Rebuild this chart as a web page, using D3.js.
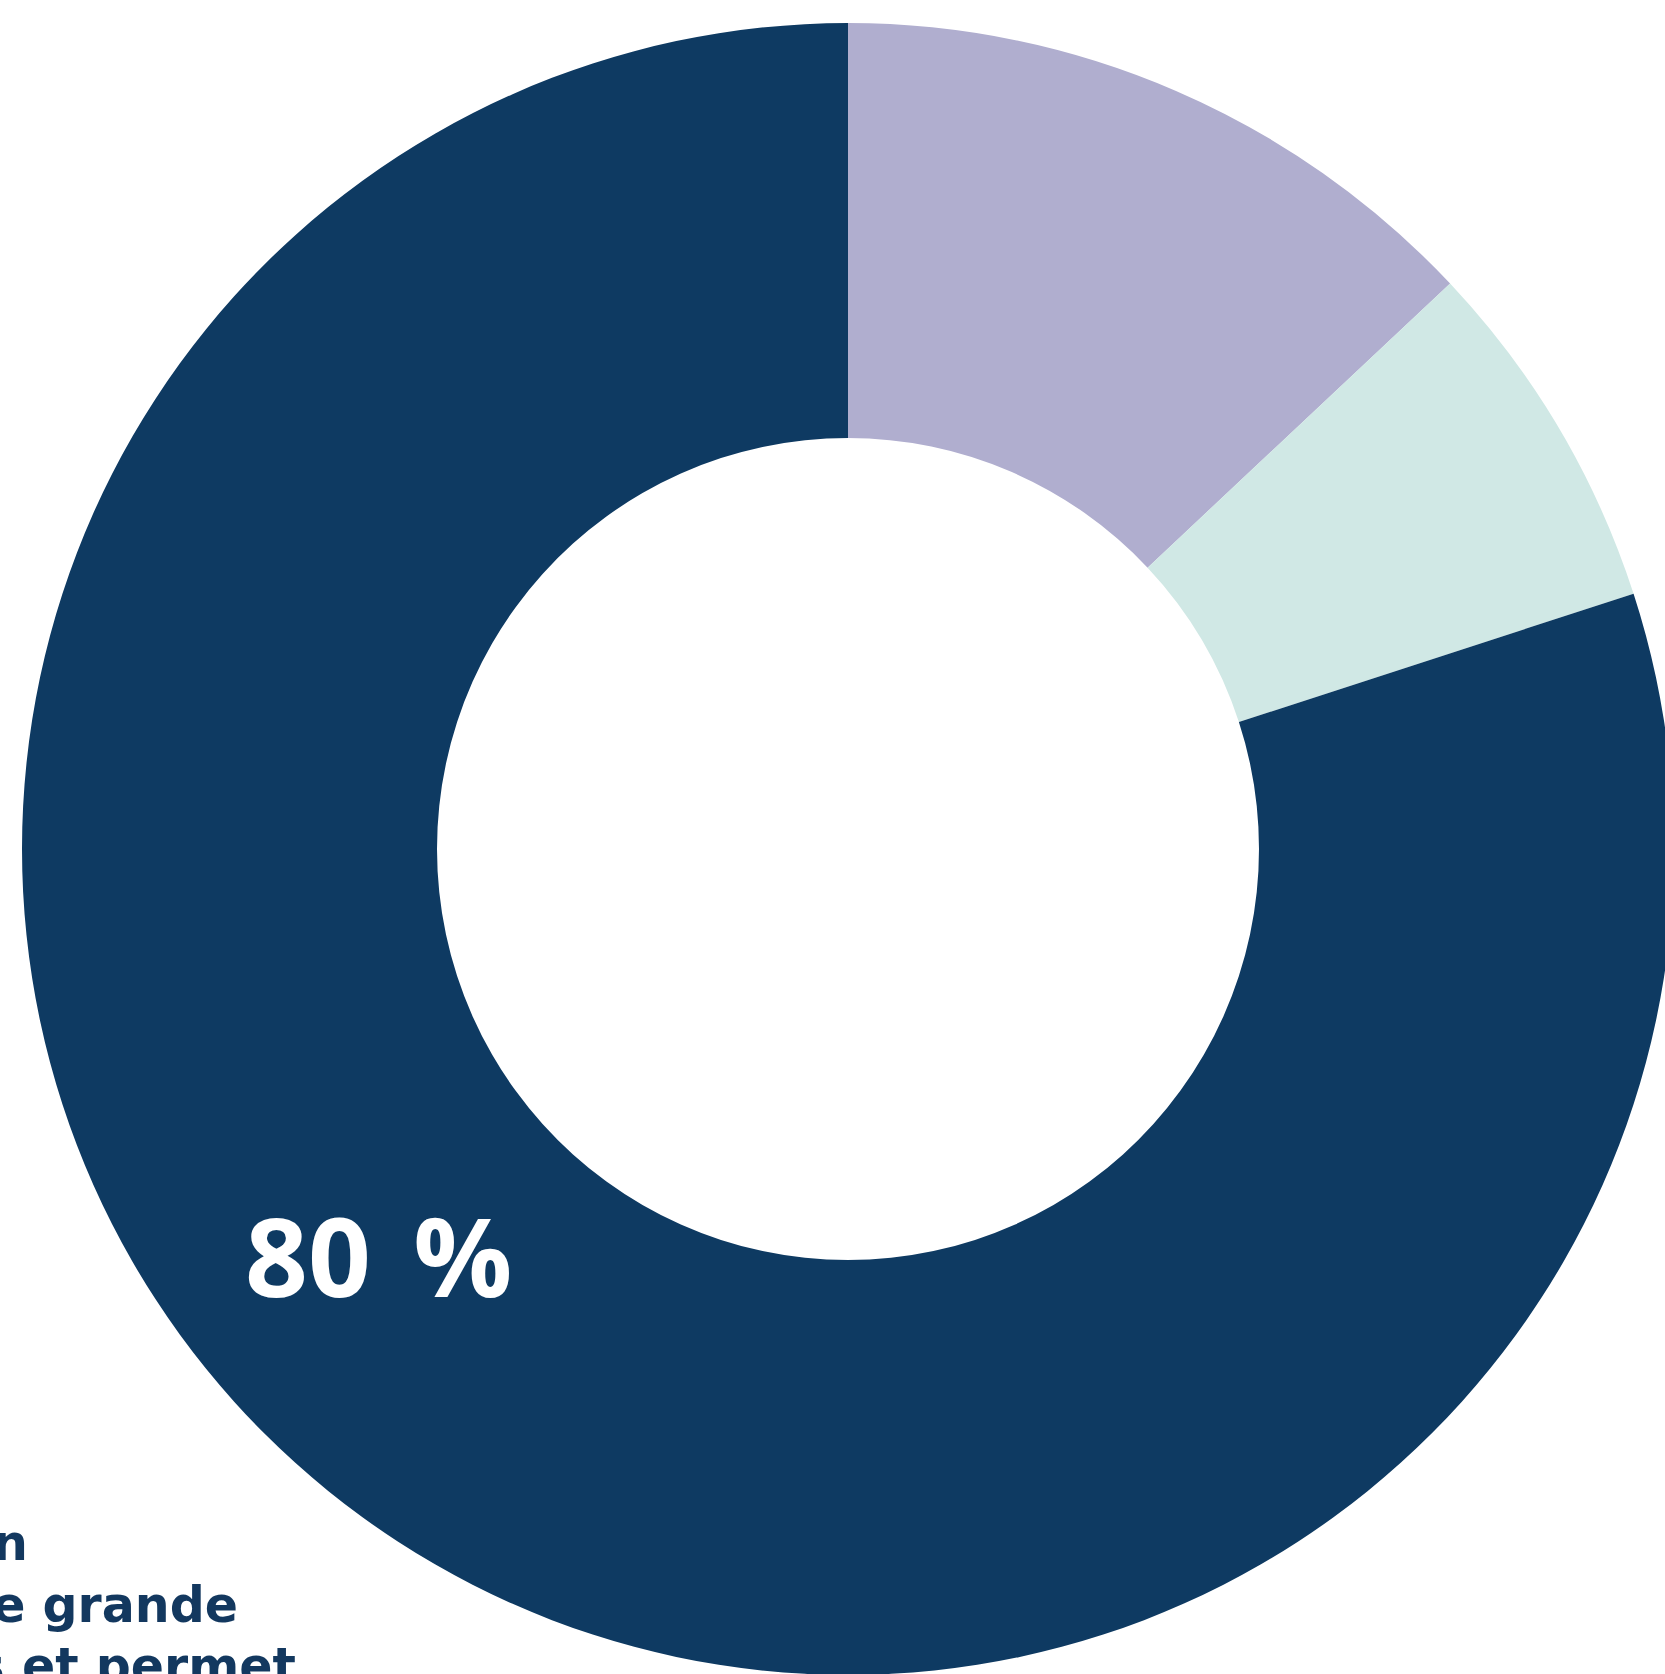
<!DOCTYPE html>
<html>
<head>
<meta charset="utf-8">
<script src="https://cdn.jsdelivr.net/npm/d3@7"></script>
<style>
    html, body { margin: 0; padding: 0; background: #ffffff; overflow: hidden; }
    svg { display: block; }
</style>
</head>
<body>
<svg id="chart"></svg>
<script>
// slices, clockwise from 12 o'clock
const categories = ["violet", "menthe", "marine"];
const values = [13, 7, 80];
const colors = ["#b0aecf", "#d0e8e5", "#0e3a62"];

const mainLabel = "80 %";
// fragments of the paragraph cut off on the left edge
const noteLines = ["n", "e grande", "s et permet"];

const width = 1665, height = 1674;
const cx = 848, cy = 849;
const outerR = 826, innerR = 411;

const svg = d3.select("#chart")
    .attr("width", width)
    .attr("height", height);

const color = d3.scaleOrdinal()
    .domain(categories)
    .range(colors);

const pie = d3.pie()
    .sort(null)
    .value(d => d.value);

const arc = d3.arc()
    .innerRadius(innerR)
    .outerRadius(outerR);

const data = categories.map((c, i) => ({ name: c, value: values[i] }));

const g = svg.append("g")
    .attr("transform", `translate(${cx}, ${cy})`);

g.selectAll("path")
    .data(pie(data))
    .join("path")
    .attr("d", arc)
    .attr("fill", d => color(d.data.name));

// big percentage inside the navy slice
svg.append("text")
    .attr("x", 245)
    .attr("y", 1297)
    .attr("font-family", "'Open Sans', sans-serif")
    .attr("font-weight", 700)
    .attr("font-size", 110)
    .attr("word-spacing", 14)
    .attr("fill", "#ffffff")
    .text(mainLabel);

// clipped note text, bottom left
const noteEnds = [28, 238, 296];
svg.append("g")
    .selectAll("text")
    .data(noteLines)
    .join("text")
    .attr("x", (d, i) => noteEnds[i])
    .attr("y", (d, i) => 1560 + i * 61.5)
    .attr("text-anchor", "end")
    .attr("font-family", "'DejaVu Sans', sans-serif")
    .attr("font-weight", 700)
    .attr("font-size", 49)
    .attr("fill", "#13385f")
    .text(d => d);
</script>
</body>
</html>
